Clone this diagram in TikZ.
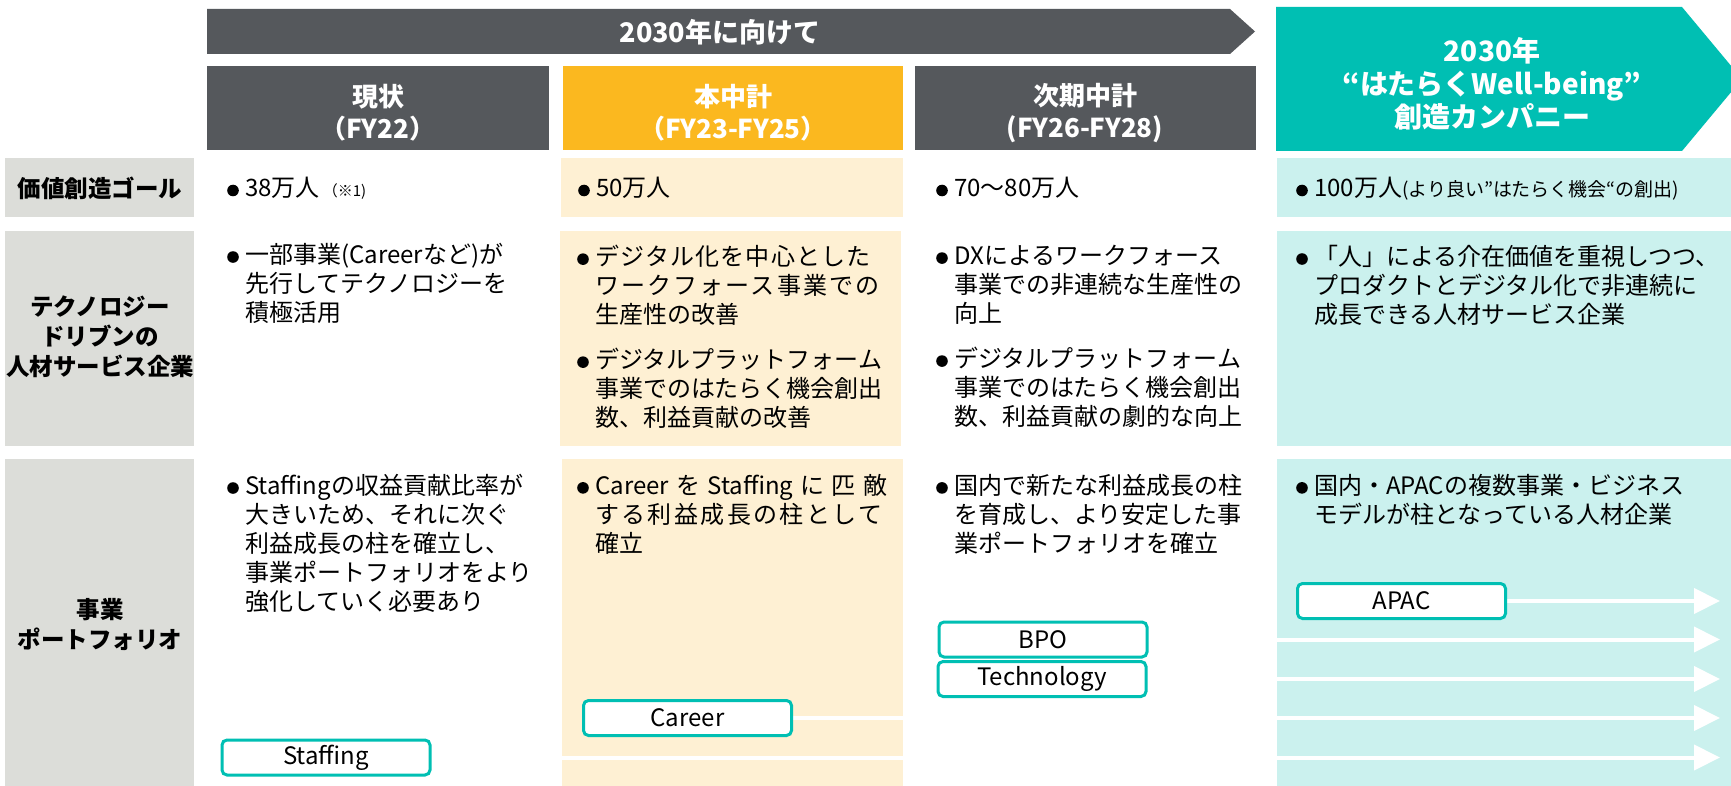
\documentclass[tikz,border=0pt]{standalone}
\usepackage{fontspec}
\setmainfont{Noto Sans CJK JP}
\usetikzlibrary{arrows.meta}
\pgfdeclarelayer{bgl}
\pgfdeclarelayer{mid}
\pgfsetlayers{bgl,mid,main}
\definecolor{dgray}{HTML}{55585C}
\definecolor{yel}{HTML}{FBB81F}
\definecolor{tealc}{HTML}{00BFB3}
\definecolor{lyel}{HTML}{FEF0D3}
\definecolor{lteal}{HTML}{CBF1EE}
\definecolor{lgray}{HTML}{DCDDD9}
\newcommand\bul{\makebox[18pt][l]{\tikz[baseline=-6.5pt]\fill[black] (0,0) circle (5.8pt);}}
\newcommand\ind{\hspace*{18pt}}
\newcommand\ls[2]{{\addfontfeature{LetterSpace=#1}#2}}
\begin{document}
\begin{tikzpicture}[x=1pt,y=-1pt,
  txt/.style={anchor=north west, inner sep=0pt, align=left, text=black,
    font=\fontsize{24pt}{29pt}\selectfont},
  oneline/.style={anchor=base west, inner sep=0pt, text=black,
    font=\fontsize{24pt}{29pt}\selectfont},
  lbl/.style={inner sep=0pt, align=center, text=black,
    font=\bfseries\fontsize{23.5pt}{30pt}\selectfont},
  hd/.style={inner sep=0pt, align=center, text=white,
    font=\bfseries\fontsize{26pt}{32pt}\selectfont},
  biz/.style={draw=tealc, line width=3pt, fill=white, rounded corners=5pt,
    minimum width=208pt, minimum height=35pt, inner sep=0pt, text=black,
    font=\fontsize{24pt}{24pt}\selectfont},
  flow/.style={draw=white, line width=4pt, -{Triangle[length=26pt,width=25pt]}}
]
\useasboundingbox (0,0) rectangle (1731,786);
\begin{pgfonlayer}{bgl}
\fill[white] (0,0) rectangle (1731,786);
% top banner arrow
\fill[dgray] (207,9) -- (1230,9) -- (1255,31.5) -- (1230,54) -- (207,54) -- cycle;
% column headers
\fill[dgray] (207,66) rectangle (549,150);
\fill[yel] (563,66) rectangle (903,150);
\fill[dgray] (915,66) rectangle (1256,150);
\fill[tealc] (1276,7) -- (1682,7) -- (1742,79) -- (1682,151) -- (1276,151) -- cycle;
% row labels
\fill[lgray] (5,158) rectangle (194,217);
\fill[lgray] (5,231) rectangle (194,446);
\fill[lgray] (5,459) rectangle (194,786);
% column 2 cells
\fill[lyel] (561,158) rectangle (903,217);
\fill[lyel] (560,231) rectangle (901,446);
\fill[lyel] (562,459) rectangle (903,786);
% column 4 cells
\fill[lteal] (1277,158) rectangle (1731,217);
\fill[lteal] (1277,231) rectangle (1731,446);
\fill[lteal] (1277,459) rectangle (1731,786);
\end{pgfonlayer}

% header texts
\node[hd, font=\bfseries\fontsize{27pt}{32pt}\selectfont] (banner) at (720,32) {2030年に向けて};
\node[hd] (h1) at (378,113) {現状\\（FY22）};
\node[hd] (h2) at (733,113) {本中計\\（FY23-FY25）};
\node[hd] (h3) at (1085,113) {次期中計\\(FY26-FY28)};
\node[hd, font=\bfseries\fontsize{28pt}{33pt}\selectfont] (h4) at (1492,84) {2030年\\“はたらくWell-being”\\創造カンパニー};

% row labels
\node[lbl] (r1) at (100,188) {価値創造ゴール};
\node[lbl] (r2) at (100,337) {テクノロジー\\ドリブンの\\人材サービス企業};
\node[lbl] (r3) at (100,625) {事業\\ポートフォリオ};

% row 1
\node[oneline] (t11) at (227,197) {\bul 38万人\hspace{3pt}{\fontsize{15pt}{15pt}\selectfont （※1)}};
\node[oneline] (t12) at (578,197) {\bul 50万人};
\node[oneline] (t13) at (936,197) {\bul 70～80万人};
\node[oneline] (t14) at (1296,197) {\bul 100万人{\fontsize{19pt}{19pt}\selectfont (より良い”はたらく機会“の創出)}};

% row 2
\node[txt] (t21) at (227,243) {\bul 一部事業(Careerなど)が\\\ind 先行してテクノロジーを\\\ind 積極活用};
\node[txt] (t22) at (577,245) {\bul \ls{5}{デジタル化を中心とした}\\\ind \ls{9}{ワークフォース事業での}\\\ind 生産性の改善\\[16pt]\bul デジタルプラットフォーム\\\ind 事業でのはたらく機会創出\\\ind 数、利益貢献の改善};
\node[txt] (t23) at (936,245) {\bul DXによるワークフォース\\\ind 事業での非連続な生産性の\\\ind 向上\\[16pt]\bul デジタルプラットフォーム\\\ind 事業でのはたらく機会創出\\\ind 数、利益貢献の劇的な向上};
\node[txt] (t24) at (1296,245) {\bul 「人」による介在価値を重視しつつ、\\\ind プロダクトとデジタル化で非連続に\\\ind 成長できる人材サービス企業};

% row 3
\node[txt] (t31) at (227,474) {\bul Staffingの収益貢献比率が\\\ind 大きいため、それに次ぐ\\\ind 利益成長の柱を確立し、\\\ind 事業ポートフォリオをより\\\ind 強化していく必要あり};
\node[txt] (t32) at (577,474) {\bul \makebox[292pt][s]{Career を Staffing に 匹 敵}\\\ind \ls{10}{する利益成長の柱として}\\\ind 確立};
\node[txt] (t33) at (936,474) {\bul 国内で新たな利益成長の柱\\\ind を育成し、より安定した事\\\ind 業ポートフォリオを確立};
\node[txt] (t34) at (1296,474) {\bul 国内・APACの複数事業・ビジネス\\\ind モデルが柱となっている人材企業};

% business boxes
\node[biz] (staff) at (326,757.5) {Staffing};
\node[biz] (career) at (687.5,718) {Career};
\node[biz] (bpo) at (1043,639.5) {BPO};
\node[biz] (tech) at (1042,679) {Technology};
\node[biz] (apac) at (1401.5,601) {APAC};

% flows to 2030
\coordinate (tipx) at (1720,0);
\begin{pgfonlayer}{mid}
\draw[flow] (apac.east) -- (apac.east -| tipx);
\draw[flow] (bpo.east) -- (bpo.east -| tipx);
\draw[flow] (tech.east) -- (tech.east -| tipx);
\draw[flow] (career.east) -- (career.east -| tipx);
\draw[flow] (staff.east) -- (staff.east -| tipx);
\end{pgfonlayer}
\end{tikzpicture}
\end{document}
